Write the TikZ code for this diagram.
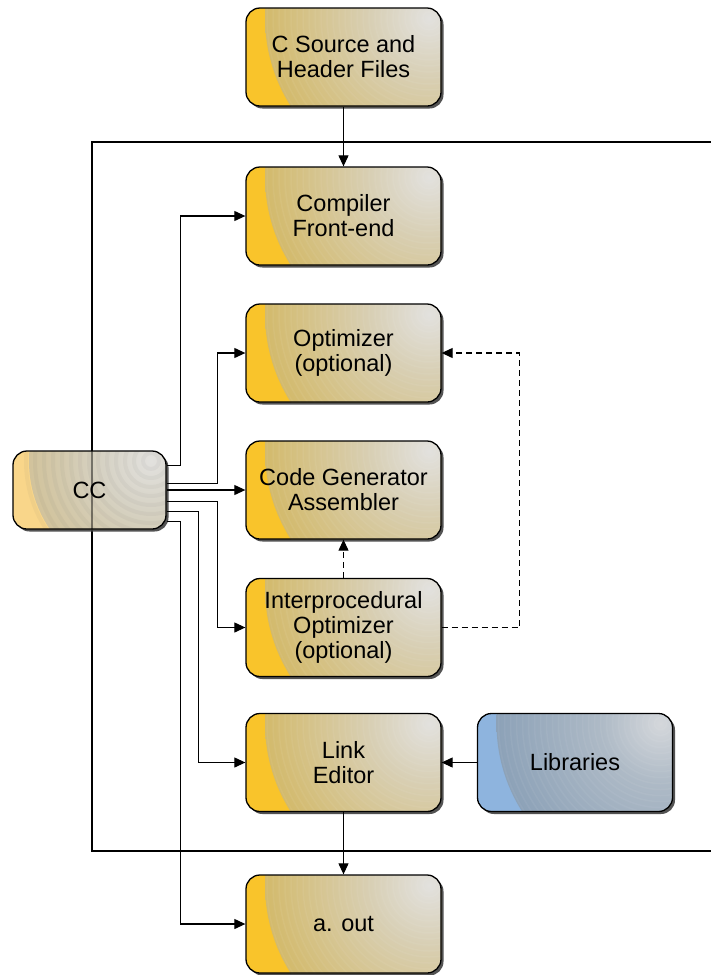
\documentclass[tikz,border=0pt]{standalone}
\usepackage{fontspec}
\setmainfont{Liberation Sans}
\usetikzlibrary{shadows,calc,arrows.meta}
\definecolor{yStrip}{HTML}{F9C42B}
\definecolor{yA}{HTML}{E2E1DE}
\definecolor{yB}{HTML}{D8CFB4}
\definecolor{yC}{HTML}{D2B65E}
\definecolor{yD}{HTML}{D6A830}
\definecolor{bStrip}{HTML}{8EB4DE}
\definecolor{bA}{HTML}{D4D7DB}
\definecolor{bB}{HTML}{AEBAC6}
\definecolor{bC}{HTML}{869DB5}
\definecolor{bD}{HTML}{7090B0}
\definecolor{cStrip}{HTML}{F9D68A}
\definecolor{cA}{HTML}{E2E1DE}
\definecolor{cB}{HTML}{D6D2C4}
\definecolor{cC}{HTML}{D0BE8E}
\definecolor{cD}{HTML}{CDB27A}
\pgfdeclareradialshading{yshade}{\pgfpoint{0bp}{0bp}}{color(0bp)=(yA); color(9bp)=(yB); color(28bp)=(yC); color(50bp)=(yD)}
\pgfdeclareradialshading{bshade}{\pgfpoint{0bp}{0bp}}{color(0bp)=(bA); color(9bp)=(bB); color(28bp)=(bC); color(50bp)=(bD)}
\pgfdeclareradialshading{cshade}{\pgfpoint{0bp}{0bp}}{color(0bp)=(cA); color(10bp)=(cB); color(30bp)=(cC); color(50bp)=(cD)}
\tikzset{
  base/.style={draw=black, line width=1.3pt, rounded corners=14pt, align=center,
    font=\fontsize{23.5}{25}\selectfont, text=black, inner sep=0pt,
    drop shadow={shadow xshift=2.5pt, shadow yshift=-2.5pt, fill=black!75, opacity=0.9}},
  mainbox/.style={base, minimum width=195pt, minimum height=98pt, fill=#1Strip,
    path picture={
      \coordinate (cen) at ($(path picture bounding box.north east)+(-12pt,-10pt)$);
      \shade[shading=#1shade] (cen) circle (164pt);
      \foreach \r in {6,12,...,162} \draw[white, opacity=0.05, line width=1.5pt] (cen) circle (\r pt);
    }},
  ccbox/.style={base, minimum width=153pt, minimum height=78pt, fill=cStrip,
    path picture={
      \coordinate (cen) at ($(path picture bounding box.north east)+(-15pt,-10pt)$);
      \shade[shading=cshade] (cen) circle (122pt);
      \foreach \r in {8,17,...,125} \draw[black!60, opacity=0.06, line width=4pt] (cen) circle (\r pt);
    }},
  arr/.style={line width=1.1pt, -{Triangle[length=11pt,width=10pt]}},
  dsh/.style={arr, dash pattern=on 6pt off 4pt}
}
\begin{document}
\begin{tikzpicture}[x=1pt,y=-1pt]
\useasboundingbox (0,0) rectangle (710,975);
% frame
\draw[line width=2.6pt] (712,142) -- (92,142) -- (92,851) -- (712,851);
% nodes
\node[mainbox=y] (src)  at (343.5,57)  {C Source and\\Header Files};
\node[mainbox=y] (fe)   at (343.5,216) {Compiler\\Front-end};
\node[mainbox=y] (opt)  at (343.5,353) {Optimizer\\(optional)};
\node[mainbox=y] (cg)   at (343.5,490) {Code Generator\\Assembler};
\node[mainbox=y] (ipo)  at (343.5,627.5) {Interprocedural\\Optimizer\\(optional)};
\node[mainbox=y] (le)   at (343.5,762.5) {Link\\Editor};
\node[mainbox=y] (aout) at (343.5,924) {a. out};
\node[mainbox=b] (lib)  at (575,762.5) {Libraries};
\node[ccbox]     (cc)   at (89.5,490)  {CC};
\draw[line width=2.6pt, opacity=0.45] (92,451) -- (92,529);
% connectors
\draw[arr] (src.south) -- (fe.north);
\draw[arr] ($(cc.north east)+(0,15)$) -| ($(fe.west)+(-65,0)$) -- (fe.west);
\draw[arr] ($(cc.north east)+(0,33)$) -| ($(opt.west)+(-28,0)$) -- (opt.west);
\draw[arr] (cc.east) -- (cg.west);
\draw[arr] ($(cc.north east)+(0,51)$) -| ($(ipo.west)+(-28,0)$) -- (ipo.west);
\draw[arr] ($(cc.north east)+(0,61)$) -| ($(le.west)+(-47,0)$) -- (le.west);
\draw[arr] ($(cc.north east)+(0,71)$) -| ($(aout.west)+(-65,0)$) -- (aout.west);
\draw[dsh] (ipo.north) -- (cg.south);
\draw[dsh] (ipo.east) -- ++(78,0) |- (opt.east);
\draw[arr] (lib.west) -- (le.east);
\draw[arr] (le.south) -- (aout.north);
\end{tikzpicture}
\end{document}
